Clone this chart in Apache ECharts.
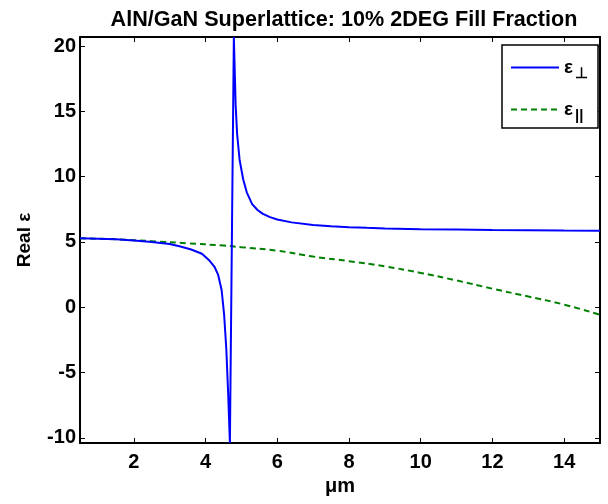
<!DOCTYPE html>
<html>
<head>
<meta charset="utf-8">
<script src="https://cdn.jsdelivr.net/npm/echarts@6/dist/echarts.min.js"></script>
<style>
  html, body { margin: 0; padding: 0; background: #fff; }
  #chart { width: 608px; height: 504px; }
</style>
</head>
<body>
<div id="chart"></div>
<script>
// 数据
const perpX = [0.5, 1, 1.5, 2, 2.5, 3, 3.3, 3.6, 3.9, 4.1, 4.25, 4.35, 4.45, 4.52, 4.58, 4.63, 4.68,
  4.79, 4.84, 4.88, 4.95, 5.05, 5.15, 5.3, 5.45, 5.6, 5.8, 6.0, 6.4, 7, 7.5, 8, 8.5, 9, 10, 11, 12, 13, 14, 15];
const perpY = [5.28, 5.25, 5.2, 5.12, 5.0, 4.85, 4.65, 4.42, 4.1, 3.6, 3.1, 2.5, 1.3, -0.6, -3.2, -6.5, -10.4,
  20.7, 15.5, 13.3, 11.3, 9.8, 8.8, 7.9, 7.45, 7.15, 6.9, 6.72, 6.5, 6.3, 6.2, 6.13, 6.08, 6.04, 5.98, 5.95, 5.92, 5.9, 5.87, 5.85];
const paraX = [0.5, 1.5, 2.5, 3.5, 4.5, 5, 6, 7, 8, 9, 10, 11, 12, 13, 14, 15];
const paraY = [5.28, 5.2, 5.06, 4.9, 4.72, 4.6, 4.33, 3.88, 3.53, 3.13, 2.63, 2.05, 1.42, 0.82, 0.2, -0.58];
const xTicks = [2, 4, 6, 8, 10, 12, 14];
const yTicks = [-10, -5, 0, 5, 10, 15, 20];

const FONT = 'Liberation Sans';

const chart = echarts.init(document.getElementById('chart'));

function toPairs(xs, ys) {
  return xs.map((x, i) => [x, ys[i]]);
}

function xAxisCfg(pos, showLabel) {
  return {
    type: 'value',
    position: pos,
    min: 0.5,
    max: 15,
    name: showLabel ? 'μm' : '',
    nameLocation: 'middle',
    nameGap: 33,
    nameTextStyle: { fontFamily: FONT, fontWeight: 'bold', fontSize: 20, color: '#000' },
    axisLine: { show: true, onZero: false, lineStyle: { color: '#000', width: 2 } },
    axisTick: { show: true, inside: true, length: 5, customValues: xTicks, lineStyle: { color: '#000', width: 1 } },
    axisLabel: { show: showLabel, customValues: xTicks, margin: 9, fontFamily: FONT, fontWeight: 'bold', fontSize: 20, color: '#000' },
    splitLine: { show: false }
  };
}

function yAxisCfg(pos, showLabel) {
  return {
    type: 'value',
    position: pos,
    min: -10.4,
    max: 20.7,
    name: showLabel ? 'Real ε' : '',
    nameLocation: 'middle',
    nameGap: 46,
    nameRotate: 90,
    nameTextStyle: { fontFamily: FONT, fontWeight: 'bold', fontSize: 19, color: '#000' },
    axisLine: { show: true, onZero: false, lineStyle: { color: '#000', width: 2 } },
    axisTick: { show: true, inside: true, length: 5, customValues: yTicks, lineStyle: { color: '#000', width: 1 } },
    axisLabel: { show: showLabel, customValues: yTicks, margin: 4, fontFamily: FONT, fontWeight: 'bold', fontSize: 20, color: '#000' },
    splitLine: { show: false }
  };
}

const option = {
  backgroundColor: '#fff',
  animation: false,
  title: {
    text: 'AlN/GaN Superlattice: 10% 2DEG Fill Fraction',
    left: 339,
    textAlign: 'center',
    top: 4,
    textStyle: { fontFamily: FONT, fontWeight: 'bold', fontSize: 21.6, color: '#000' }
  },
  grid: { left: 80, right: 8, top: 37, bottom: 61, containLabel: false },
  legend: {
    orient: 'vertical',
    left: 502,
    top: 45,
    padding: [13, 10, 5, 8],
    itemGap: 19,
    itemWidth: 48,
    itemHeight: 14,
    borderColor: '#000',
    borderWidth: 1.5,
    backgroundColor: '#fff',
    itemStyle: { opacity: 0 },
    data: ['perp', 'para'],
    formatter: function (name) {
      return name === 'perp' ? '{e|ε}{s|⊥}' : '{e|ε}{s|||}';
    },
    textStyle: {
      color: '#000',
      rich: {
        e: { fontFamily: FONT, fontWeight: 'bold', fontSize: 19, color: '#000' },
        s: { fontFamily: FONT, fontWeight: 'bold', fontSize: 15, color: '#000', padding: [12, 0, 0, 2] }
      }
    }
  },
  xAxis: [xAxisCfg('bottom', true), xAxisCfg('top', false)],
  yAxis: [yAxisCfg('left', true), yAxisCfg('right', false)],
  series: [
    {
      name: 'perp',
      type: 'line',
      data: toPairs(perpX, perpY),
      showSymbol: false,
      symbol: 'none',
      lineStyle: { color: '#0000ff', width: 2 },
      itemStyle: { color: '#0000ff' },
      z: 3
    },
    {
      name: 'para',
      type: 'line',
      data: toPairs(paraX, paraY),
      smooth: true,
      showSymbol: false,
      symbol: 'none',
      lineStyle: { color: '#008000', width: 2, type: [6, 4] },
      itemStyle: { color: '#008000' },
      z: 2
    }
  ]
};

chart.setOption(option);
</script>
</body>
</html>
